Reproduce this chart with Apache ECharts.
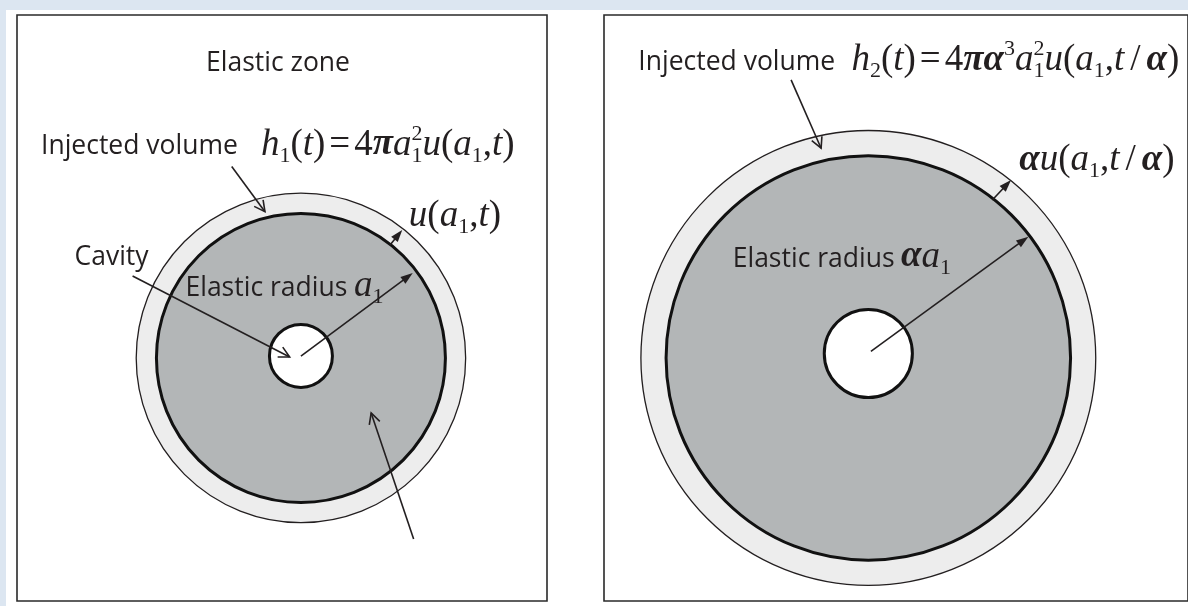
<!DOCTYPE html>
<html>
<head>
<meta charset="utf-8">
<script src="https://cdn.jsdelivr.net/npm/echarts@6.0.0/dist/echarts.min.js"></script>
<style>
  html, body { margin: 0; padding: 0; background: #fff; }
  #cavity-chart { width: 1188px; height: 606px; }
</style>
</head>
<body>
<div id="cavity-chart"></div>
<script>
// lengths are in units of a1 (elastic radius of the left panel), right panel is scaled by alpha ~ 1.414
var ringName = ['outer', 'elastic', 'cavity'];
var ringR = [[1.14, 1.0, 0.218], [1.59, 1.414, 0.308]];
var ringY = [[0, 0, 0.014], [0, 0, 0.031]];

// arrows: tail x, tail y, tip x, tip y, head (0 open, 1 filled)
var arrowsLeft = [
  [-0.479, 1.324, -0.249, 1.012, 0],
  [0.617, 0.782, 0.701, 0.886, 1],
  [0, 0.012, 0.774, 0.587, 1],
  [-1.165, 0.567, -0.078, 0.007, 0],
  [0.780, -1.253, 0.486, -0.381, 0]
];
var arrowsRight = [
  [-0.540, 1.924, -0.330, 1.451, 0],
  [0.867, 1.093, 0.998, 1.232, 1],
  [0.018, 0.046, 1.119, 0.839, 1]
];

// labels (left edge, vertical middle)
var labelPanel = [0, 0, 0, 0, 0, 0, 0, 1, 1, 1, 1, 1];
var labelX = [-0.657, -1.799, -0.277, 0.747, -1.567, -0.799, 0.367, -1.608, -0.118, 1.055, -0.948, 0.228];
var labelY = [2.035, 1.460, 1.474, 0.983, 0.692, 0.478, 0.498, 2.044, 2.062, 1.370, 0.678, 0.699];
var labelText = [
  '{s|Elastic zone}',
  '{s|Injected volume}',
  '{i|h}{sb|1}{n|(}{i|t}{n|)}{g| }{n|=}{g| }{n|4}{b|π}{i|a}{sz|1}{sp|2}{i|u}{n|(}{i|a}{sb|1}{n|,}{i|t}{n|)}',
  '{i|u}{n|(}{i|a}{sb|1}{n|,}{i|t}{n|)}',
  '{s|Cavity}',
  '{s|Elastic radius}',
  '{i|a}{sb|1}',
  '{s|Injected volume}',
  '{i|h}{sb|2}{n|(}{i|t}{n|)}{g| }{n|=}{g| }{n|4}{b|πα}{sp|3}{i|a}{sz|1}{sp|2}{i|u}{n|(}{i|a}{sb|1}{n|,}{i|t}{w| }{n|/}{w| }{b|α}{n|)}',
  '{b|α}{i|u}{n|(}{i|a}{sb|1}{n|,}{i|t}{w| }{n|/}{w| }{b|α}{n|)}',
  '{s|Elastic radius}',
  '{b|α}{i|a}{sb|1}'
];

// axis ranges of each panel, in a1 units
var xMin = [-1.965, -1.848], xMax = [1.703, 2.235];
var yMin = [-1.682, -1.682], yMax = [2.373, 2.373];

var ink = '#231f20';
var ringStyle = {
  outer: { fill: '#ededed', stroke: ink, lineWidth: 1.3 },
  elastic: { fill: '#b3b6b7', stroke: '#111', lineWidth: 3 },
  cavity: { fill: '#ffffff', stroke: '#111', lineWidth: 3 }
};
var rich = {
  s: { font: '26.5px "Open Sans"', fill: ink, lineHeight: 44 },
  i: { font: 'italic 37px "Liberation Serif"', fill: ink, lineHeight: 44 },
  n: { font: '37px "Liberation Serif"', fill: ink, lineHeight: 44 },
  b: { font: 'italic bold 37px "Liberation Serif"', fill: ink, lineHeight: 44 },
  g: { font: '16px "Liberation Serif"', fill: ink, lineHeight: 44 },
  w: { font: '24px "Liberation Serif"', fill: ink, lineHeight: 44 },
  sb: { font: '22px "Liberation Serif"', fill: ink, lineHeight: 22, verticalAlign: 'bottom' },
  sz: { font: '22px "Liberation Serif"', fill: ink, lineHeight: 22, verticalAlign: 'bottom', width: 0 },
  sp: { font: '22px "Liberation Serif"', fill: ink, lineHeight: 30, verticalAlign: 'top' }
};

function ringData(p) {
  var rows = [];
  for (var k = 0; k < ringName.length; k++) {
    rows.push([0, ringY[p][k], ringR[p][k], k]);
  }
  return rows;
}

function labelData(p) {
  var rows = [];
  for (var i = 0; i < labelText.length; i++) {
    if (labelPanel[i] === p) rows.push([labelX[i], labelY[i], i]);
  }
  return rows;
}

function renderRing(params, api) {
  var c = api.coord([api.value(0), api.value(1)]);
  var s = api.size([api.value(2), api.value(2)]);
  return {
    type: 'circle',
    shape: { cx: c[0], cy: c[1], r: s[0] },
    style: ringStyle[ringName[api.value(3)]]
  };
}

function renderArrow(params, api) {
  var a = api.coord([api.value(0), api.value(1)]);
  var b = api.coord([api.value(2), api.value(3)]);
  var filled = api.value(4) === 1;
  var ang = Math.atan2(b[1] - a[1], b[0] - a[0]);
  var len = filled ? 13 : 12;
  var spread = filled ? 0.33 : 0.48;
  var p1 = [b[0] - len * Math.cos(ang - spread), b[1] - len * Math.sin(ang - spread)];
  var p2 = [b[0] - len * Math.cos(ang + spread), b[1] - len * Math.sin(ang + spread)];
  var end = filled ? [b[0] - (len - 2) * Math.cos(ang), b[1] - (len - 2) * Math.sin(ang)] : b;
  var children = [{
    type: 'line',
    shape: { x1: a[0], y1: a[1], x2: end[0], y2: end[1] },
    style: { stroke: ink, lineWidth: 1.6 }
  }];
  if (filled) {
    children.push({ type: 'polygon', shape: { points: [b, p1, p2] }, style: { fill: ink } });
  } else {
    children.push({ type: 'polyline', shape: { points: [p1, b, p2] }, style: { stroke: ink, fill: null, lineWidth: 1.6 } });
  }
  return { type: 'group', children: children };
}

function renderLabel(params, api) {
  var c = api.coord([api.value(0), api.value(1)]);
  return {
    type: 'text',
    x: c[0],
    y: c[1],
    style: {
      text: labelText[api.value(2)],
      rich: rich,
      align: 'left',
      verticalAlign: 'middle',
      fill: ink
    }
  };
}

var chart = echarts.init(document.getElementById('cavity-chart'));
var grids = [], xAxes = [], yAxes = [], series = [];
var gridBox = [[17, 530], [604, 590]];
for (var p = 0; p < 2; p++) {
  grids.push({
    left: gridBox[p][0], top: 15, width: gridBox[p][1], height: 586,
    show: true, backgroundColor: '#fff', borderColor: '#2a2a2a', borderWidth: 1.6
  });
  xAxes.push({ type: 'value', gridIndex: p, min: xMin[p], max: xMax[p], show: false });
  yAxes.push({ type: 'value', gridIndex: p, min: yMin[p], max: yMax[p], show: false });
  series.push({
    type: 'custom', xAxisIndex: p, yAxisIndex: p, silent: true, clip: false,
    renderItem: renderRing, data: ringData(p)
  });
  series.push({
    type: 'custom', xAxisIndex: p, yAxisIndex: p, silent: true, clip: false,
    renderItem: renderArrow, data: p === 0 ? arrowsLeft : arrowsRight
  });
  series.push({
    type: 'custom', xAxisIndex: p, yAxisIndex: p, silent: true, clip: false,
    renderItem: renderLabel, data: labelData(p)
  });
}

chart.setOption({
  animation: false,
  backgroundColor: '#fff',
  graphic: [
    { type: 'rect', shape: { x: 0, y: 0, width: 1188, height: 10 }, style: { fill: '#dce6f1' }, z: -1 },
    { type: 'rect', shape: { x: 0, y: 0, width: 6, height: 606 }, style: { fill: '#dce6f1' }, z: -1 }
  ],
  grid: grids,
  xAxis: xAxes,
  yAxis: yAxes,
  series: series
});
</script>
</body>
</html>
